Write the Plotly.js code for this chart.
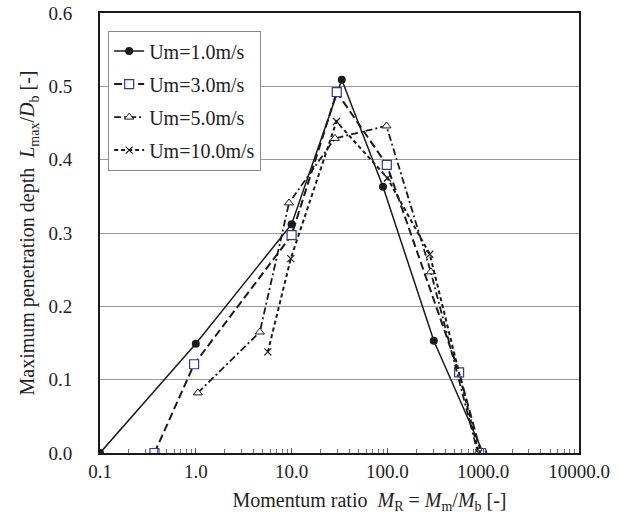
<!DOCTYPE html>
<html>
<head>
<meta charset="utf-8">
<script src="https://cdn.plot.ly/plotly-3.0.1.min.js"></script>
<style>html,body{margin:0;padding:0;background:#fff;}#chart{width:621px;height:529px;}</style>
</head>
<body>
<div id="chart"></div>
<script>
// Um = 1.0 m/s
const x1 = [0.1, 1.0, 10.0, 33.4, 90, 305, 1000];
const y1 = [0.0, 0.149, 0.312, 0.509, 0.363, 0.153, 0.0];
// Um = 3.0 m/s
const x2 = [0.37, 0.96, 10.0, 29.6, 98.6, 560, 950];
const y2 = [0.0, 0.121, 0.297, 0.492, 0.393, 0.110, 0.0];
// Um = 5.0 m/s
const x3 = [1.05, 4.66, 9.4, 28.3, 97.8, 284, 880];
const y3 = [0.082, 0.165, 0.341, 0.429, 0.446, 0.247, 0.0];
// Um = 10.0 m/s
const x4 = [5.65, 9.8, 29.4, 100, 277, 900];
const y4 = [0.138, 0.265, 0.452, 0.375, 0.271, 0.0];

const names = ['Um=1.0m/s', 'Um=3.0m/s', 'Um=5.0m/s', 'Um=10.0m/s'];
const xTickVals = [0.1, 1, 10, 100, 1000, 10000];
const xTickText = ['0.1', '1.0', '10.0', '100.0', '1000.0', '10000.0'];
const yTickVals = [0, 0.1, 0.2, 0.3, 0.4, 0.5, 0.6];
const yTickText = ['0.0', '0.1', '0.2', '0.3', '0.4', '0.5', '0.6'];

const traces = [
  {x: x1, y: y1, name: names[0], legendgroup: 'a', mode: 'lines+markers',
   line: {color: '#1a1a1a', width: 1.5},
   marker: {symbol: 'circle', size: 8, color: '#1a1a1a'}},
  {x: x2, y: y2, name: names[1], legendgroup: 'b', mode: 'lines+markers',
   line: {color: '#1a1a1a', width: 2, dash: '8px,4px'},
   marker: {symbol: 'square', size: 9, color: '#ffffff', line: {color: '#2b3a9b', width: 1.2}}},
  {x: x3, y: y3, name: names[2], legendgroup: 'c', mode: 'lines+markers',
   line: {color: '#1a1a1a', width: 1.8, dash: '7px,3px,2px,3px'},
   marker: {symbol: 'triangle-up', size: 8, color: '#ffffff', line: {color: '#1a1a1a', width: 1}}},
  {x: x4, y: y4, name: names[3], legendgroup: 'd', mode: 'lines+markers',
   line: {color: '#1a1a1a', width: 2, dash: '4px,3px'},
   marker: {symbol: 'x-thin', size: 7, color: '#1a1a1a', line: {color: '#1a1a1a', width: 1.2}}}
];

const serif = 'Liberation Serif, Times New Roman, serif';
const titleFont = {family: serif, size: 20, color: '#222'};
const tickFont = {family: serif, size: 19, color: '#222'};
const pad = '&nbsp;'.repeat(12);

const layout = {
  width: 621, height: 529,
  margin: {l: 100, r: 42, t: 13, b: 76},
  paper_bgcolor: '#ffffff', plot_bgcolor: '#ffffff',
  font: tickFont,
  showlegend: true,
  legend: {
    x: 0.017, y: 0.96, xanchor: 'left', yanchor: 'top',
    bgcolor: '#ffffff', bordercolor: '#888', borderwidth: 1,
    font: {family: serif, size: 20, color: '#222'},
    traceorder: 'grouped', tracegroupgap: 4, itemwidth: 30
  },
  xaxis: {
    type: 'log', range: [-1, 4],
    tickvals: xTickVals, ticktext: xTickText,
    tickfont: tickFont,
    showgrid: false, zeroline: false,
    showline: true, linecolor: '#1a1a1a', linewidth: 2, mirror: true,
    ticks: 'inside', ticklen: 5, tickcolor: '#555',
    ticklabelstandoff: 0,
    minor: {ticks: 'inside', ticklen: 4, tickcolor: '#777', dtick: 'D1', showgrid: false},
    title: {text: pad + 'Momentum ratio&nbsp;&nbsp;<i>M</i><sub>R</sub> = <i>M</i><sub>m</sub>/<i>M</i><sub>b</sub> [-]', font: titleFont, standoff: 12},
    automargin: false
  },
  yaxis: {
    range: [0, 0.6],
    tickvals: yTickVals, ticktext: yTickText,
    tickfont: tickFont,
    showgrid: true, gridcolor: '#9a9a9a', gridwidth: 1,
    zeroline: false,
    showline: true, linecolor: '#1a1a1a', linewidth: 2, mirror: true,
    ticks: '', ticklen: 0, ticklabelstandoff: 22,
    title: {text: 'Maximum penetration depth&nbsp;&nbsp;<i>L</i><sub>max</sub>/<i>D</i><sub>b</sub> [-]', font: titleFont, standoff: 8},
    automargin: false
  }
};

Plotly.newPlot('chart', traces, layout, {displayModeBar: false, staticPlot: true});
</script>
</body>
</html>
